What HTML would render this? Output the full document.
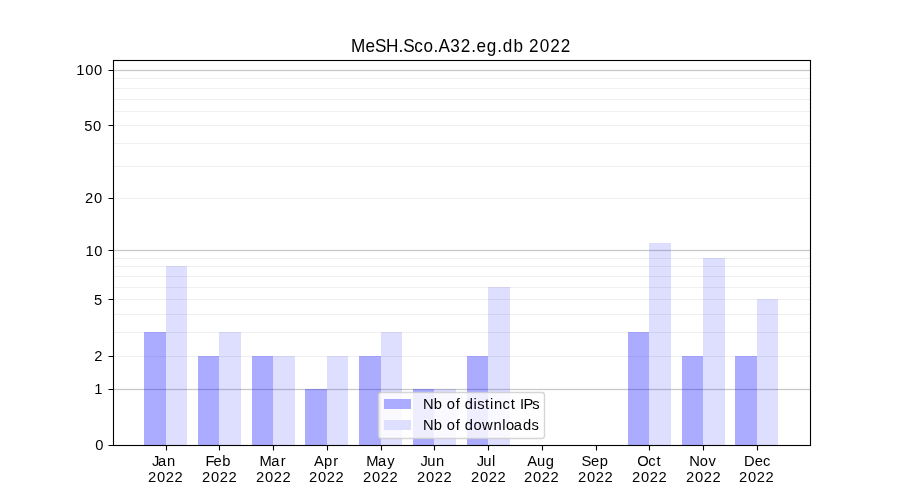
<!DOCTYPE html>
<html><head><meta charset="utf-8"><title>MeSH.Sco.A32.eg.db 2022</title><style>
html,body{margin:0;padding:0;background:#fff;width:900px;height:500px;overflow:hidden}
svg{display:block}
text{font-family:"Liberation Sans",sans-serif;fill:#000}
.txt{filter:grayscale(1)}
.c{shape-rendering:crispEdges}
</style></head><body>
<svg width="900" height="500" viewBox="0 0 900 500">
<rect x="0" y="0" width="900" height="500" fill="#fff"/>
<g class="grid c">
<rect x="113" y="356" width="697" height="1" fill="#b0b0b0" fill-opacity="0.2"/>
<rect x="113" y="332" width="697" height="1" fill="#b0b0b0" fill-opacity="0.2"/>
<rect x="113" y="314" width="697" height="1" fill="#b0b0b0" fill-opacity="0.2"/>
<rect x="113" y="299" width="697" height="1" fill="#b0b0b0" fill-opacity="0.2"/>
<rect x="113" y="287" width="697" height="1" fill="#b0b0b0" fill-opacity="0.2"/>
<rect x="113" y="276" width="697" height="1" fill="#b0b0b0" fill-opacity="0.2"/>
<rect x="113" y="266" width="697" height="1" fill="#b0b0b0" fill-opacity="0.2"/>
<rect x="113" y="258" width="697" height="1" fill="#b0b0b0" fill-opacity="0.2"/>
<rect x="113" y="198" width="697" height="1" fill="#b0b0b0" fill-opacity="0.2"/>
<rect x="113" y="166" width="697" height="1" fill="#b0b0b0" fill-opacity="0.2"/>
<rect x="113" y="143" width="697" height="1" fill="#b0b0b0" fill-opacity="0.2"/>
<rect x="113" y="125" width="697" height="1" fill="#b0b0b0" fill-opacity="0.2"/>
<rect x="113" y="111" width="697" height="1" fill="#b0b0b0" fill-opacity="0.2"/>
<rect x="113" y="99" width="697" height="1" fill="#b0b0b0" fill-opacity="0.2"/>
<rect x="113" y="88" width="697" height="1" fill="#b0b0b0" fill-opacity="0.2"/>
<rect x="113" y="78" width="697" height="1" fill="#b0b0b0" fill-opacity="0.2"/>
<rect x="113" y="389" width="697" height="1" fill="#b0b0b0" fill-opacity="0.7"/>
<rect x="113" y="388" width="697" height="1" fill="#b0b0b0" fill-opacity="0.09"/>
<rect x="113" y="390" width="697" height="1" fill="#b0b0b0" fill-opacity="0.09"/>
<rect x="113" y="250" width="697" height="1" fill="#b0b0b0" fill-opacity="0.7"/>
<rect x="113" y="249" width="697" height="1" fill="#b0b0b0" fill-opacity="0.09"/>
<rect x="113" y="251" width="697" height="1" fill="#b0b0b0" fill-opacity="0.09"/>
<rect x="113" y="70" width="697" height="1" fill="#b0b0b0" fill-opacity="0.7"/>
<rect x="113" y="69" width="697" height="1" fill="#b0b0b0" fill-opacity="0.09"/>
<rect x="113" y="71" width="697" height="1" fill="#b0b0b0" fill-opacity="0.09"/>
</g>
<g class="bars c">
<rect x="144" y="332" width="22" height="113" fill="#00f" fill-opacity="0.33"/>
<rect x="166" y="266" width="21" height="179" fill="#00f" fill-opacity="0.13"/>
<rect x="198" y="356" width="21" height="89" fill="#00f" fill-opacity="0.33"/>
<rect x="219" y="332" width="22" height="113" fill="#00f" fill-opacity="0.13"/>
<rect x="252" y="356" width="21" height="89" fill="#00f" fill-opacity="0.33"/>
<rect x="273" y="356" width="22" height="89" fill="#00f" fill-opacity="0.13"/>
<rect x="305" y="389" width="22" height="56" fill="#00f" fill-opacity="0.33"/>
<rect x="327" y="356" width="21" height="89" fill="#00f" fill-opacity="0.13"/>
<rect x="359" y="356" width="22" height="89" fill="#00f" fill-opacity="0.33"/>
<rect x="381" y="332" width="21" height="113" fill="#00f" fill-opacity="0.13"/>
<rect x="413" y="389" width="21" height="56" fill="#00f" fill-opacity="0.33"/>
<rect x="434" y="389" width="22" height="56" fill="#00f" fill-opacity="0.13"/>
<rect x="467" y="356" width="21" height="89" fill="#00f" fill-opacity="0.33"/>
<rect x="488" y="287" width="22" height="158" fill="#00f" fill-opacity="0.13"/>
<rect x="628" y="332" width="21" height="113" fill="#00f" fill-opacity="0.33"/>
<rect x="649" y="243" width="22" height="202" fill="#00f" fill-opacity="0.13"/>
<rect x="682" y="356" width="21" height="89" fill="#00f" fill-opacity="0.33"/>
<rect x="703" y="258" width="22" height="187" fill="#00f" fill-opacity="0.13"/>
<rect x="735" y="356" width="22" height="89" fill="#00f" fill-opacity="0.33"/>
<rect x="757" y="299" width="21" height="146" fill="#00f" fill-opacity="0.13"/>
</g>
<g class="axes">
<rect x="113.5" y="60.5" width="697" height="385" fill="none" stroke="#000" stroke-width="1.11"/>
<path d="M108.5 445.5H113.5M108.5 389.5H113.5M108.5 356.5H113.5M108.5 299.5H113.5M108.5 250.5H113.5M108.5 198.5H113.5M108.5 125.5H113.5M108.5 70.5H113.5M166.5 445.5V450.5M219.5 445.5V450.5M273.5 445.5V450.5M327.5 445.5V450.5M381.5 445.5V450.5M434.5 445.5V450.5M488.5 445.5V450.5M542.5 445.5V450.5M596.5 445.5V450.5M649.5 445.5V450.5M703.5 445.5V450.5M757.5 445.5V450.5" stroke="#000" stroke-width="1.11" fill="none"/>
</g>
<g class="legend">
<rect x="378.5" y="392.5" width="166" height="46" rx="2.78" fill="#fff" fill-opacity="0.8" stroke="#ccc" stroke-opacity="0.8" stroke-width="1.39"/>
<rect x="384" y="399" width="27" height="10" fill="#ababff"/>
<rect x="384" y="420" width="27" height="10" fill="#dedeff"/>
</g>
<g class="txt">
<text x="359.93 374.99 384.73 395.97 408.73 413.53 424.80 434.41 444.51 449.64 461.90 472.50 483.29 488.85 499.37 510.03 515.60 526.64 536.81 542.55 553.62 564.25 575.09" y="52.00" font-size="17.58" transform="scale(0.9750 1)">MeSH.Sco.A32.eg.db 2022</text>
<text x="95.22" y="450.00" font-size="14.72">0</text>
<text x="94.15" y="394.00" font-size="14.72">1</text>
<text x="94.17" y="361.00" font-size="14.72">2</text>
<text x="93.92" y="305.00" font-size="14.72">5</text>
<text x="85.40 94.30" y="256.00" font-size="14.72">10</text>
<text x="84.92 93.93" y="203.00" font-size="14.72">20</text>
<text x="84.17 93.05" y="131.00" font-size="14.72">50</text>
<text x="76.27 85.18 94.01" y="75.00" font-size="14.72">100</text>
<text x="151.95 157.92 167.12" y="466.00" font-size="14.72">Jan</text>
<text x="147.99 157.00 165.65 174.48" y="482.00" font-size="14.72">2022</text>
<text x="205.49 213.46 222.19" y="466.00" font-size="14.72">Feb</text>
<text x="201.98 210.99 219.64 228.46" y="482.00" font-size="14.72">2022</text>
<text x="259.51 271.25 280.79" y="466.00" font-size="14.72">Mar</text>
<text x="256.09 265.10 273.75 282.58" y="482.00" font-size="14.72">2022</text>
<text x="313.99 324.05 333.13" y="466.00" font-size="14.72">Apr</text>
<text x="309.02 318.03 326.67 335.50" y="482.00" font-size="14.72">2022</text>
<text x="366.16 377.91 387.20" y="466.00" font-size="14.72">May</text>
<text x="363.00 372.01 380.66 389.49" y="482.00" font-size="14.72">2022</text>
<text x="420.55 427.16 436.02" y="466.00" font-size="14.72">Jun</text>
<text x="416.99 426.00 434.64 443.47" y="482.00" font-size="14.72">2022</text>
<text x="476.69 483.30 492.12" y="466.00" font-size="14.72">Jul</text>
<text x="470.97 479.99 488.63 497.46" y="482.00" font-size="14.72">2022</text>
<text x="527.14 537.08 545.83" y="466.00" font-size="14.72">Aug</text>
<text x="524.02 533.04 541.68 550.51" y="482.00" font-size="14.72">2022</text>
<text x="581.46 590.91 599.63" y="466.00" font-size="14.72">Sep</text>
<text x="578.07 587.08 595.73 604.56" y="482.00" font-size="14.72">2022</text>
<text x="637.14 648.29 656.59" y="466.00" font-size="14.72">Oct</text>
<text x="632.00 641.01 649.65 658.48" y="482.00" font-size="14.72">2022</text>
<text x="689.15 699.81 708.56" y="466.00" font-size="14.72">Nov</text>
<text x="685.98 694.99 703.64 712.47" y="482.00" font-size="14.72">2022</text>
<text x="743.93 754.77 763.07" y="466.00" font-size="14.72">Dec</text>
<text x="738.97 747.98 756.63 765.45" y="482.00" font-size="14.72">2022</text>
<text x="422.94 433.84 442.26 446.82 455.72 460.04 464.68 473.56 477.15 484.99 490.09 493.98 502.42 510.71 515.51 519.92 523.51 532.17" y="409.00" font-size="14.72">Nb of distinct IPs</text>
<text x="422.94 433.84 442.26 446.82 455.72 460.04 464.68 473.42 482.10 493.42 502.18 505.90 513.86 522.96 531.57" y="430.00" font-size="14.72">Nb of downloads</text>
</g>
</svg>
</body></html>
